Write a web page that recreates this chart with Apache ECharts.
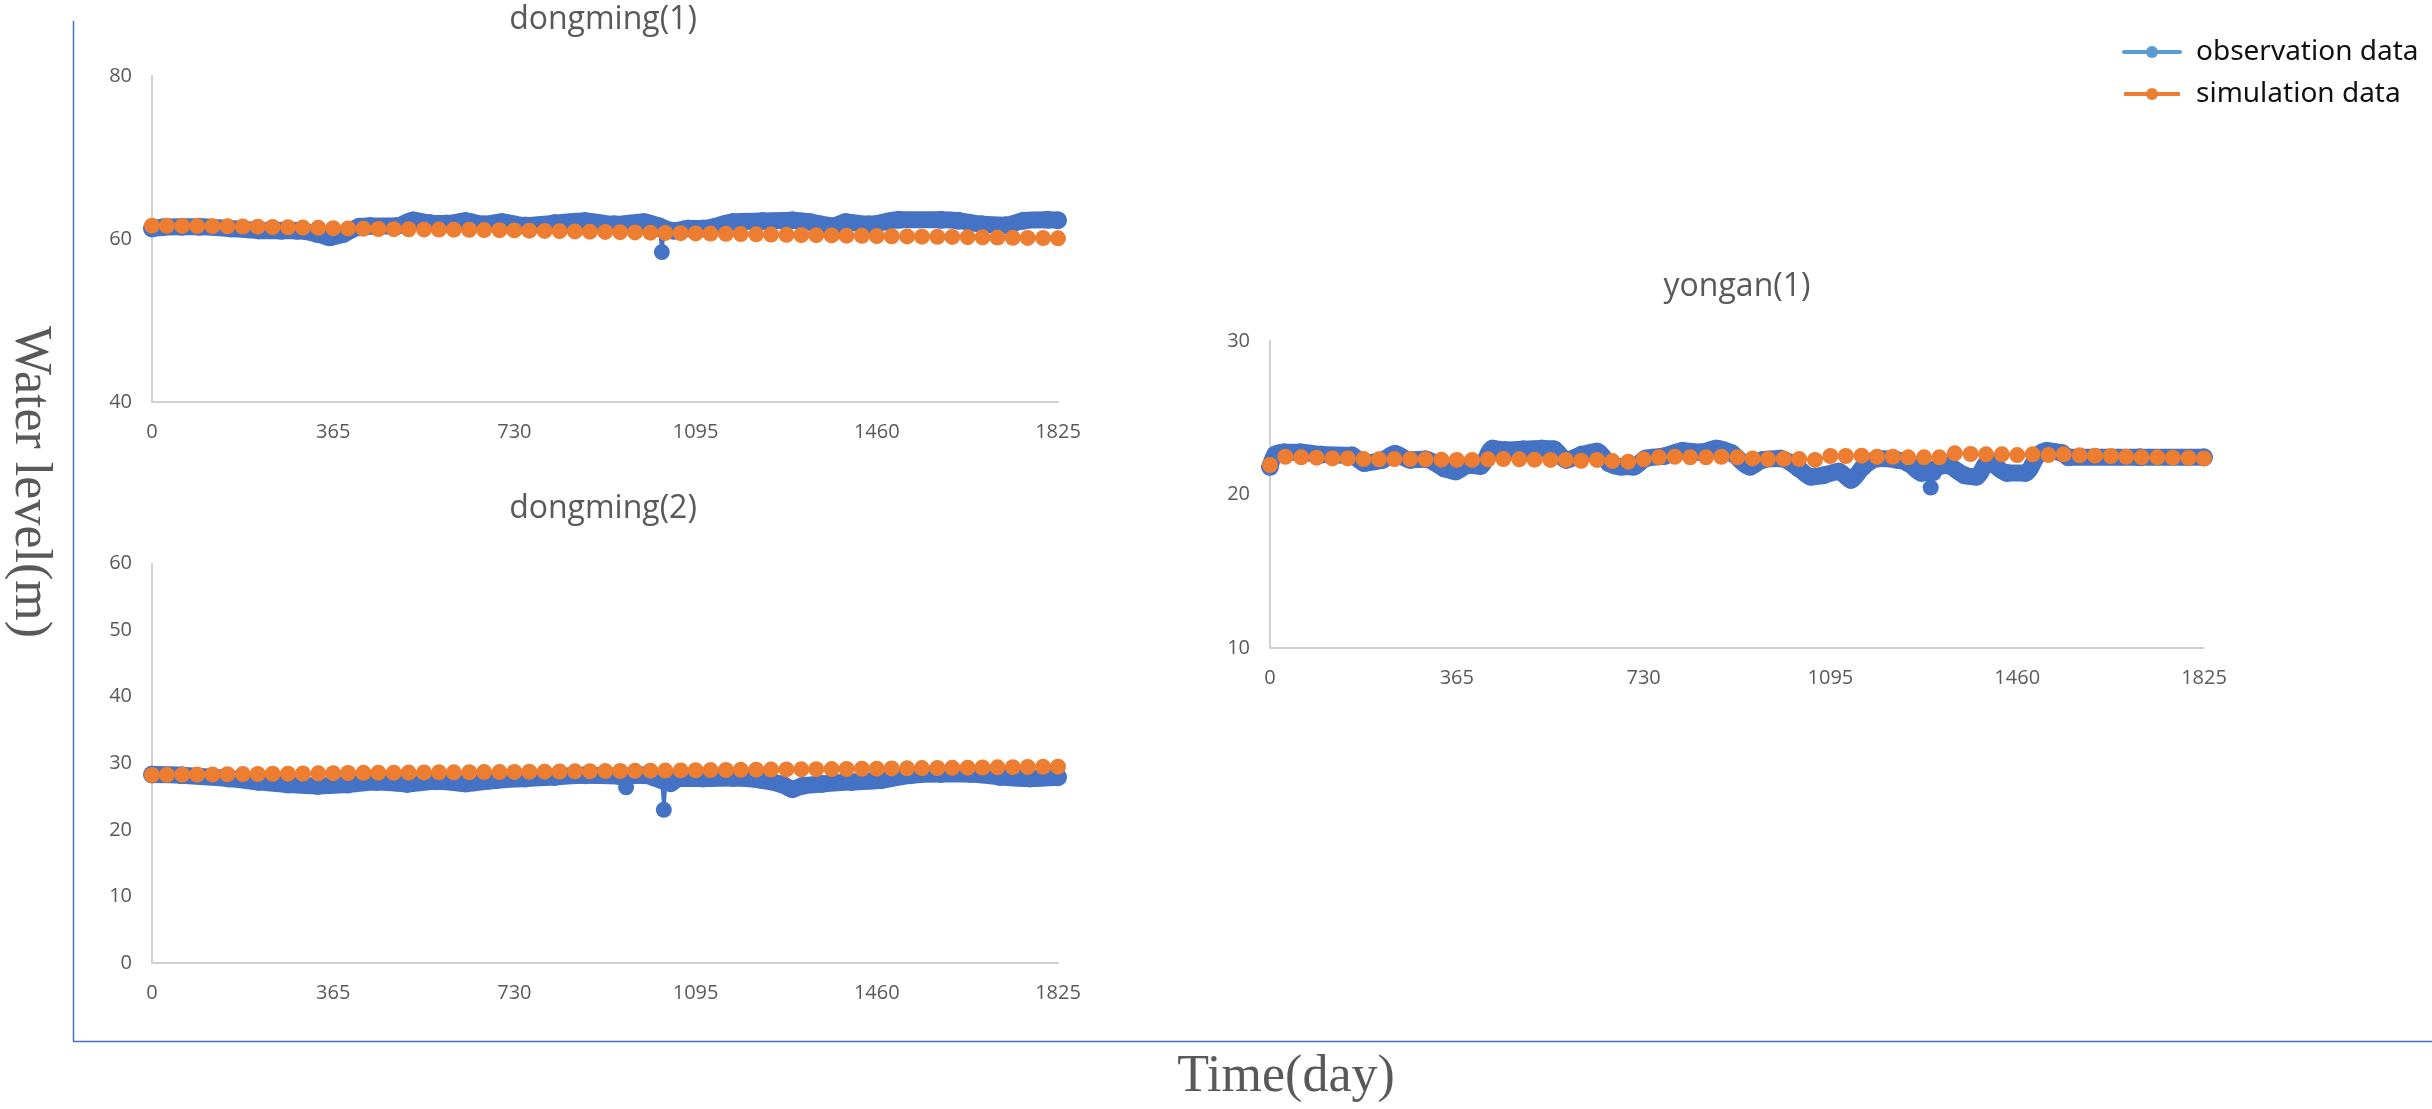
<!DOCTYPE html>
<html>
<head>
<meta charset="utf-8">
<title>Water level</title>
<script src="https://cdn.jsdelivr.net/npm/echarts@6/dist/echarts.min.js"></script>
<style>
html, body { margin: 0; padding: 0; background: #fff; }
#chart { width: 2432px; height: 1109px; }
</style>
</head>
<body>
<div id="chart"></div>
<script>
// x axis: days, ticks every 365
const dayMax = 1825;
const dayStep = 365;

// simulation is monthly, 61 samples over the 5 years
const simDays = Array.from({length: 61}, (_, i) => Math.round(i * dayMax / 60));

// dongming(1) -- [day, level]
const dm1Obs = [
    [0, 61.3], [22, 61.45], [60, 61.5], [95, 61.5], [157, 61.3], [215, 61.05], [260, 61.0],
    [292, 61.0], [334, 60.6], [358, 60.2], [385, 60.6], [417, 61.5], [439, 61.6], [493, 61.6],
    [526, 62.3], [560, 61.95], [593, 61.9], [632, 62.2], [668, 61.8], [705, 62.1], [752, 61.65],
    [811, 61.95], [872, 62.2], [931, 61.8], [991, 62.1], [1020, 61.6], [1051, 61.0], [1080, 61.3],
    [1110, 61.3], [1170, 62.1], [1230, 62.2], [1290, 62.3], [1325, 62.1], [1373, 61.6], [1397, 62.1],
    [1444, 61.8], [1504, 62.35], [1589, 62.35], [1624, 62.25], [1672, 61.8], [1720, 61.7],
    [1756, 62.25], [1804, 62.35], [1825, 62.3]
];
const dm1Spike = [[1022, 61.2], [1027, 58.4], [1032, 61.0]];
const dm1Sim = [
    61.63, 61.62, 61.60, 61.58, 61.57, 61.55, 61.53, 61.51, 61.47, 61.44,
    61.40, 61.37, 61.33, 61.30, 61.27, 61.23, 61.21, 61.20, 61.18, 61.16,
    61.14, 61.12, 61.10, 61.08, 61.05, 61.02, 60.99, 60.96, 60.93, 60.90,
    60.87, 60.84, 60.81, 60.78, 60.75, 60.72, 60.69, 60.66, 60.63, 60.60,
    60.57, 60.55, 60.52, 60.49, 60.47, 60.44, 60.41, 60.39, 60.36, 60.34,
    60.32, 60.29, 60.27, 60.25, 60.22, 60.20, 60.18, 60.15, 60.13, 60.11,
    60.08
];

// dongming(2)
const dm2Obs = [
    [0, 28.3], [60, 28.2], [155, 27.7], [215, 27.2], [274, 26.8], [334, 26.6], [394, 26.8],
    [453, 27.2], [514, 26.9], [573, 27.3], [632, 26.95], [693, 27.45], [752, 27.7], [811, 27.95],
    [872, 28.2], [940, 28.1], [991, 28.2], [1045, 27.0], [1060, 27.7], [1110, 27.7], [1170, 27.8],
    [1230, 27.45], [1270, 26.8], [1290, 26.1], [1310, 26.6], [1350, 26.9], [1410, 27.2],
    [1469, 27.45], [1529, 28.2], [1589, 28.4], [1648, 28.4], [1708, 27.95], [1768, 27.7], [1825, 27.9]
];
const dm2Spike = [[950, 28.0], [955, 26.4], [960, 28.0], [1026, 28.0], [1031, 23.0], [1036, 27.5]];
const dm2Sim = [
    28.24, 28.26, 28.28, 28.30, 28.32, 28.35, 28.37, 28.39, 28.42, 28.44,
    28.46, 28.49, 28.51, 28.54, 28.56, 28.58, 28.59, 28.60, 28.62, 28.63,
    28.64, 28.65, 28.67, 28.68, 28.70, 28.72, 28.74, 28.76, 28.78, 28.80,
    28.82, 28.84, 28.86, 28.88, 28.90, 28.92, 28.95, 28.97, 28.99, 29.01,
    29.03, 29.05, 29.07, 29.09, 29.11, 29.12, 29.14, 29.17, 29.19, 29.22,
    29.24, 29.27, 29.29, 29.32, 29.34, 29.36, 29.39, 29.41, 29.44, 29.46,
    29.49
];

// yongan(1)
const yaObs = [
    [0, 21.8], [10, 22.6], [28, 22.75], [60, 22.75], [100, 22.6], [160, 22.55], [184, 22.05],
    [220, 22.25], [244, 22.65], [274, 22.25], [304, 22.3], [340, 21.7], [363, 21.5], [387, 21.9],
    [411, 21.85], [435, 23.0], [459, 22.9], [495, 22.95], [531, 23.0], [555, 22.95], [579, 22.25],
    [609, 22.6], [639, 22.8], [662, 22.05], [686, 21.8], [710, 21.8], [734, 22.35], [770, 22.5],
    [806, 22.85], [842, 22.75], [872, 23.0], [902, 22.7], [938, 21.8], [962, 22.25], [997, 22.35],
    [1033, 21.7], [1057, 21.15], [1081, 21.25], [1111, 21.5], [1135, 20.95], [1159, 21.8],
    [1189, 22.35], [1225, 22.25], [1249, 22.0], [1273, 21.4], [1321, 21.9], [1357, 21.25],
    [1380, 21.15], [1404, 22.15], [1440, 21.4], [1476, 21.4], [1500, 22.55], [1518, 22.85],
    [1548, 22.7], [1560, 22.42], [1700, 22.42], [1825, 22.42]
];
const yaSpike = [[1285, 21.4], [1291, 20.45], [1297, 21.4]];
const yaSim = [
    21.92, 22.46, 22.42, 22.40, 22.35, 22.35, 22.31, 22.29, 22.31, 22.31,
    22.29, 22.27, 22.25, 22.25, 22.29, 22.31, 22.29, 22.27, 22.25, 22.25,
    22.20, 22.25, 22.18, 22.14, 22.29, 22.42, 22.46, 22.42, 22.42, 22.46,
    22.42, 22.35, 22.31, 22.33, 22.31, 22.25, 22.51, 22.51, 22.53, 22.46,
    22.46, 22.42, 22.42, 22.42, 22.68, 22.64, 22.62, 22.62, 22.57, 22.62,
    22.57, 22.62, 22.55, 22.53, 22.51, 22.46, 22.42, 22.42, 22.40, 22.38,
    22.35
];

const BLUE = '#4472C4';
const ORANGE = '#ED7D31';
const GREY = '#595959';
const AXIS = '#D0D0D0';
const OBS = 'observation data';
const SIM = 'simulation data';

const panels = [
    {title: 'dongming(1)', obs: dm1Obs, spike: dm1Spike, sim: dm1Sim, yMin: 40, yMax: 80, yStep: 20,
        grid: {left: 152, top: 76, width: 906, height: 326}, tx: 603, ty: 20},
    {title: 'dongming(2)', obs: dm2Obs, spike: dm2Spike, sim: dm2Sim, yMin: 0, yMax: 60, yStep: 10,
        grid: {left: 152, top: 563.5, width: 906, height: 399.5}, tx: 603, ty: 509},
    {title: 'yongan(1)', obs: yaObs, spike: yaSpike, sim: yaSim, yMin: 10, yMax: 30, yStep: 10,
        grid: {left: 1270, top: 341, width: 934, height: 307}, tx: 1737, ty: 287}
];

const labelStyle = {color: GREY, fontSize: 20, fontFamily: 'Open Sans', formatter: v => String(v)};

const grids = panels.map(p => p.grid);
const xAxes = panels.map((p, i) => ({
    type: 'value', gridIndex: i, min: 0, max: dayMax, interval: dayStep,
    axisLine: {show: true, onZero: false, lineStyle: {color: AXIS, width: 2}},
    axisTick: {show: false},
    splitLine: {show: false},
    axisLabel: {...labelStyle, margin: 20}
}));
const yAxes = panels.map((p, i) => ({
    type: 'value', gridIndex: i, min: p.yMin, max: p.yMax, interval: p.yStep,
    axisLine: {show: true, lineStyle: {color: AXIS, width: 2}},
    axisTick: {show: false},
    splitLine: {show: false},
    axisLabel: {...labelStyle, margin: 20}
}));

const series = [];
panels.forEach((p, i) => {
    series.push({
        name: OBS, type: 'line', xAxisIndex: i, yAxisIndex: i,
        data: p.obs, smooth: 0.3,
        symbol: 'circle', symbolSize: 18,
        itemStyle: {color: BLUE},
        lineStyle: {color: BLUE, width: 17, cap: 'round', join: 'round'}
    });
    series.push({
        name: OBS, type: 'line', xAxisIndex: i, yAxisIndex: i,
        data: p.spike,
        symbol: 'circle', symbolSize: 16,
        itemStyle: {color: BLUE},
        lineStyle: {color: BLUE, width: 3}
    });
    series.push({
        name: SIM, type: 'line', xAxisIndex: i, yAxisIndex: i,
        data: simDays.map((d, k) => [d, p.sim[k]]),
        symbol: 'circle', symbolSize: 16,
        itemStyle: {color: ORANGE},
        lineStyle: {color: ORANGE, width: 3}
    });
});

const graphic = [
    {type: 'line', shape: {x1: 73.5, y1: 21, x2: 73.5, y2: 1041.5}, style: {stroke: BLUE, lineWidth: 1.5}},
    {type: 'line', shape: {x1: 73, y1: 1041.5, x2: 2432, y2: 1041.5}, style: {stroke: BLUE, lineWidth: 1.5}},
    {type: 'text', x: 30, y: 482, rotation: -Math.PI / 2,
        style: {text: 'Water level(m)', fill: GREY, fontSize: 52, fontFamily: 'Liberation Serif', align: 'center', verticalAlign: 'middle'}},
    {type: 'text', x: 1286, y: 1077,
        style: {text: 'Time(day)', fill: GREY, fontSize: 52, fontFamily: 'Liberation Serif', align: 'center', verticalAlign: 'middle'}}
];
panels.forEach(p => {
    graphic.push({type: 'text', x: p.tx, y: p.ty,
        style: {text: p.title, fill: GREY, fontSize: 32, fontFamily: 'Open Sans', align: 'center', verticalAlign: 'middle'}});
});

const chart = echarts.init(document.getElementById('chart'));
chart.setOption({
    animation: false,
    backgroundColor: '#fff',
    legend: {
        orient: 'vertical', left: 2122, top: 38, padding: 0,
        itemWidth: 56, itemHeight: 15, itemGap: 14,
        textStyle: {color: '#111', fontSize: 28, fontFamily: 'Noto Sans', lineHeight: 28, padding: [0, 0, 0, 11]},
        data: [
            {name: OBS, itemStyle: {color: '#5B9BD5'}, lineStyle: {color: '#5B9BD5', width: 4}},
            {name: SIM, itemStyle: {color: ORANGE}, lineStyle: {color: ORANGE, width: 4}}
        ]
    },
    grid: grids,
    xAxis: xAxes,
    yAxis: yAxes,
    series: series,
    graphic: graphic
});
</script>
</body>
</html>
